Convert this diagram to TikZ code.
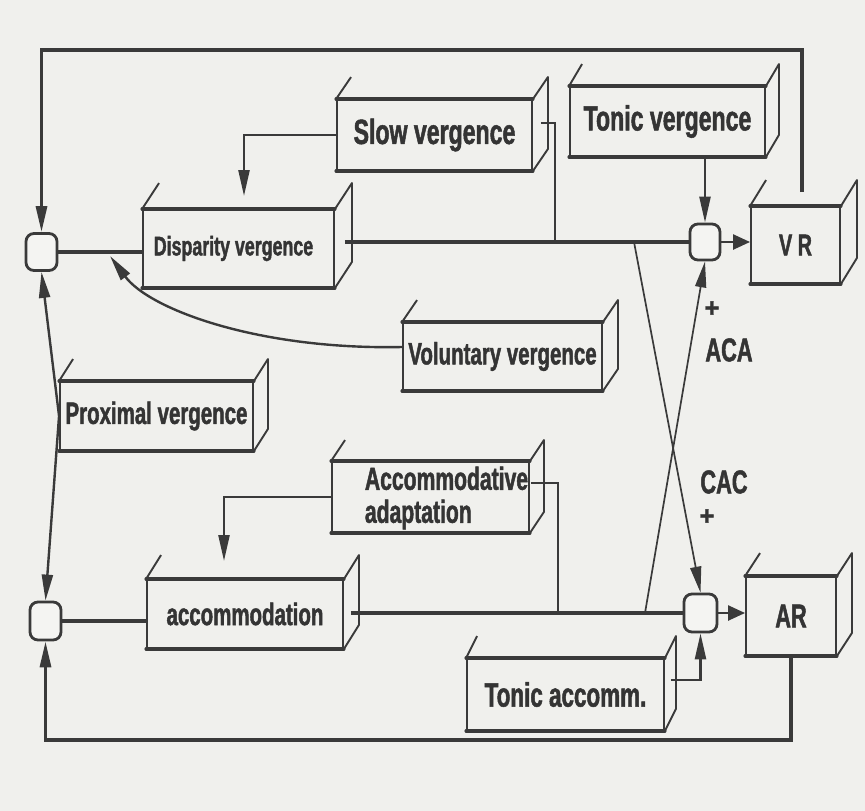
\documentclass[tikz,border=0pt]{standalone}
\usepackage{fontspec}
\usetikzlibrary{arrows.meta,calc}
\newfontfamily\lab{Liberation Sans}[FakeStretch=0.66,FakeBold=1.4]
\newfontfamily\plusfont{Liberation Sans}[FakeBold=1.5]
\newcommand\lfs[1]{\fontsize{#1}{#1}\selectfont}
\definecolor{bg}{RGB}{240,240,237}
\definecolor{lc}{RGB}{58,58,58}
\definecolor{tc}{RGB}{52,52,52}
\definecolor{jf}{RGB}{244,244,242}
\tikzset{
  box/.style={draw=lc, line width=1.9pt, inner sep=0pt, text=tc},
  edge/.style={draw=lc, line width=1.9pt, line join=round},
  tedge/.style={draw=lc, line width=3.2pt, line cap=round},
  junc/.style={draw=lc, line width=2.8pt, rounded corners=8pt, fill=jf, minimum width=31pt, minimum height=37pt, inner sep=0pt},
  conn/.style={draw=lc, line width=2.4pt},
  tconn/.style={draw=lc, line width=3.2pt},
  xconn/.style={draw=lc, line width=1.7pt},
  arr/.style={-{Triangle[length=26pt,width=11pt]}},
  warr/.style={-{Triangle[length=17pt,width=15pt]}},
  lbl/.style={text=tc, inner sep=0pt}
}
\newcommand\mkdepth[3]{%
  \draw[edge] (#1.north west) -- ++(#2,#3);
  \draw[edge] (#1.north east) -- ++(#2,#3) -- ($(#1.south east)+(#2,#3)$) -- (#1.south east);
  \draw[tedge] (#1.north west) -- (#1.north east);
  \draw[tedge] (#1.south west) -- (#1.south east);
}
\begin{document}
\begin{tikzpicture}[x=1pt,y=-1pt]
\fill[bg] (0,0) rectangle (865,811);
\useasboundingbox (0,0) rectangle (865,811);

% boxes
\node[box, minimum width=195pt, minimum height=70pt, font={\lab\bfseries\lfs{35}}] (slow) at (434.5,135) {Slow vergence};
\node[box, minimum width=195pt, minimum height=69pt, font={\lab\bfseries\lfs{35}}] (tonicv) at (667.5,121.5) {Tonic vergence};
\node[box, minimum width=191pt, minimum height=77pt, font={\lab\bfseries\lfs{27}}] (disp) at (238.5,248.5) {\hspace*{-10pt}Disparity vergence};
\node[box, minimum width=193pt, minimum height=68pt, font={\lab\bfseries\lfs{31}}] (prox) at (156.5,416) {Proximal vergence};
\node[box, minimum width=199pt, minimum height=67pt, font={\lab\bfseries\lfs{31}}] (vol) at (502.5,356.5) {Voluntary vergence};
\node[box, minimum width=197pt, minimum height=70pt] (acad) at (430.5,497) {};
\node[lbl, align=left, font={\lab\bfseries\fontsize{32}{33}\selectfont}] (acadtxt) at (446.5,498) {Accommodative\\adaptation};
\node[box, minimum width=196pt, minimum height=68pt, font={\lab\bfseries\lfs{31}}] (accom) at (245,614) {accommodation};
\node[box, minimum width=197pt, minimum height=71pt, font={\lab\bfseries\lfs{34}}] (tonica) at (565.5,694.5) {Tonic accomm.};
\node[box, minimum width=89pt, minimum height=76pt, font={\lab\bfseries\lfs{30}}] (VR) at (795.5,245) {V R};
\node[box, minimum width=90pt, minimum height=78pt, font={\lab\bfseries\lfs{33}}] (AR) at (791,616) {AR};

\mkdepth{slow}{15}{-22}
\mkdepth{tonicv}{13}{-22}
\mkdepth{disp}{17}{-26}
\mkdepth{prox}{14}{-22}
\mkdepth{vol}{15}{-22}
\mkdepth{acad}{14}{-21}
\mkdepth{accom}{15}{-24}
\mkdepth{tonica}{11}{-22}
\mkdepth{VR}{16}{-26}
\mkdepth{AR}{15}{-23}

% junctions
\node[junc] (J1) at (41.5,252) {};
\node[junc, minimum width=30pt, minimum height=36pt] (J2) at (705,242) {};
\node[junc, minimum height=38pt] (J3) at (45.5,621) {};
\node[junc, minimum width=33pt, minimum height=38pt] (J4) at (700.5,613) {};

% helper coordinates
\coordinate (ytop) at (0,50);
\coordinate (ybot) at (0,740);
\coordinate (vrtop) at (802,192);
\coordinate (dispout) at ($(disp.east)+(10,0)$);
\coordinate (slowout) at ($(slow.east)+(8,-12)$);
\coordinate (slowdn) at (555,242);
\coordinate (dispin) at (244,196);
\coordinate (acadout) at ($(acad.east)+(1,-14)$);
\coordinate (acaddn) at (558,613);
\coordinate (accomin) at (224,561);
\coordinate (accomout) at ($(accom.east)+(7,0)$);
\coordinate (tonicaout) at ($(tonica.east)+(6,-14.5)$);
\coordinate (volout) at ($(vol.west)+(0,-9.5)$);
\coordinate (volin) at (110,256);
\coordinate (cacs) at (634,242);
\coordinate (acas) at (645,613);

% feedback loops
\draw[tconn, arr] (vrtop) -- (vrtop |- ytop) -- (J1.north |- ytop) -- (J1.north);
\draw[tconn, arr] (AR.south) -- (AR.south |- ybot) -- (J3.south |- ybot) -- (J3.south);

% upper chain
\draw[tconn] (J1.east) -- (disp.west |- J1.east);
\draw[tconn] (dispout |- J2.west) -- (J2.west);
\draw[conn] (slowout) -| (slowdn);
\draw[conn, arr] (slow.west) -| (dispin);
\draw[conn, arr] (J2.north |- tonicv.south) -- (J2.north);
\draw[conn, warr] (J2.east) -- (VR.west |- J2.east);
\draw[conn, arr] (volout) .. controls (260,350) and (150,310) .. (volin);

% proximal
\draw[conn, arr] (prox.west) -- (J1.south);
\draw[conn, arr] (prox.west) -- (J3.north);

% lower chain
\draw[tconn] (J3.east) -- (accom.west |- J3.east);
\draw[tconn] (accomout |- J4.west) -- (J4.west);
\draw[conn] (acadout) -| (acaddn);
\draw[conn, arr] (acad.west) -| (accomin);
\draw[conn, arr] (tonicaout) -| (J4.south);
\draw[conn, warr] (J4.east) -- (AR.west |- J4.east);

% cross links
\draw[xconn, arr] (cacs) -- (J4.north);
\draw[xconn, arr] (acas) -- (J2.south);

% labels
\node[lbl, font={\plusfont\bfseries\lfs{26}}] (plus1) at (712,309) {+};
\node[lbl, font={\lab\bfseries\lfs{33}}] (aca) at (729,350) {ACA};
\node[lbl, font={\lab\bfseries\lfs{33}}] (cac) at (724,482) {CAC};
\node[lbl, font={\plusfont\bfseries\lfs{26}}] (plus2) at (707,517) {+};
\end{tikzpicture}
\end{document}
